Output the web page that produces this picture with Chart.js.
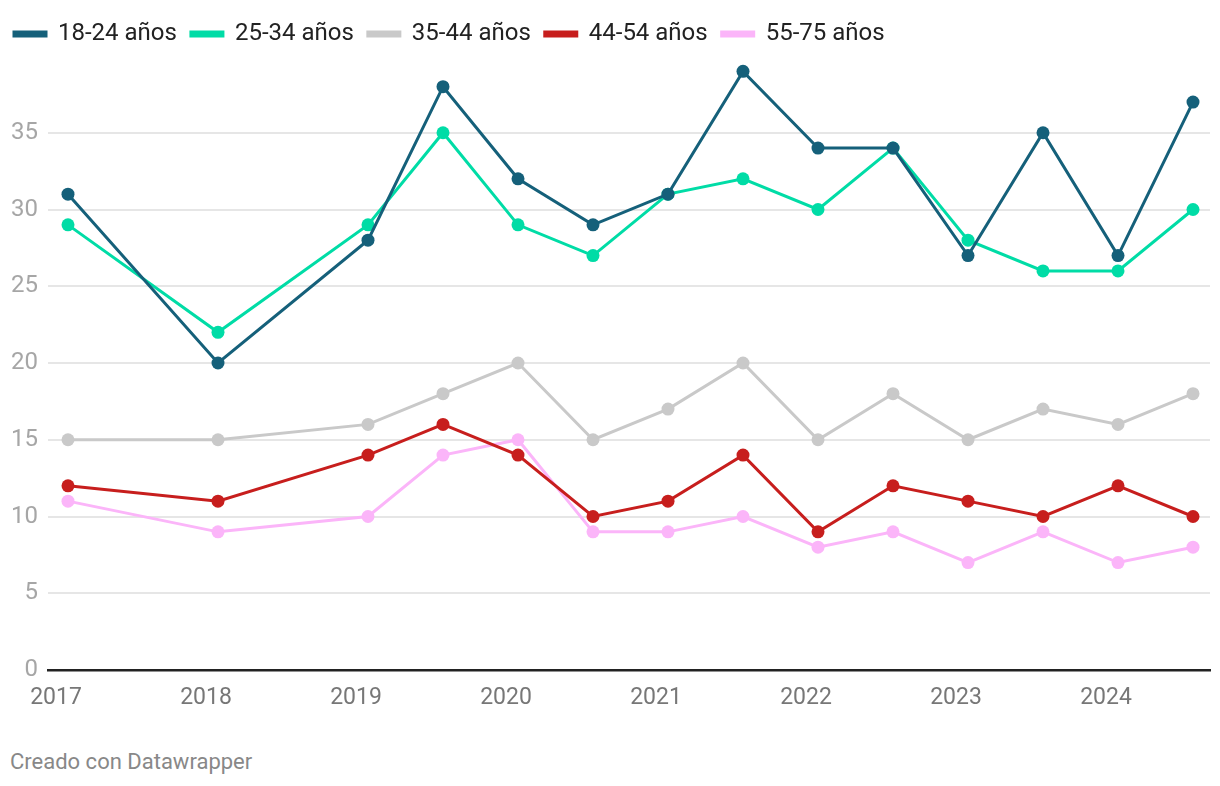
<!DOCTYPE html>
<html>
<head>
<meta charset="utf-8">
<script src="https://cdn.jsdelivr.net/npm/chart.js@4.4.0/dist/chart.umd.min.js"></script>
<style>
  body { margin: 0; background: #fff; font-family: Roboto, sans-serif; }
  #wrap { position: relative; width: 1220px; height: 716px; }
  #footer { position: absolute; left: 10px; top: 749px; font-size: 22px; color: #888; }
</style>
</head>
<body>
<div id="wrap"><canvas id="chart"></canvas></div>
<div id="footer">Creado con Datawrapper</div>
<script>
// periodos (año decimal)
const periods = [2017, 2018, 2019, 2019.5, 2020, 2020.5, 2021, 2021.5, 2022, 2022.5, 2023, 2023.5, 2024, 2024.5];
const yearTicks = [2017, 2018, 2019, 2020, 2021, 2022, 2023, 2024];
const yTicks = [0, 5, 10, 15, 20, 25, 30, 35];

const seriesNames = ['18-24 años', '25-34 años', '35-44 años', '44-54 años', '55-75 años'];
const seriesColors = ['#15607a', '#00dca6', '#c9c9c9', '#c71e1d', '#fbb5f9'];

const s18_24 = [31, 20, 28, 38, 32, 29, 31, 39, 34, 34, 27, 35, 27, 37];
const s25_34 = [29, 22, 29, 35, 29, 27, 31, 32, 30, 34, 28, 26, 26, 30];
const s35_44 = [15, 15, 16, 18, 20, 15, 17, 20, 15, 18, 15, 17, 16, 18];
const s44_54 = [12, 11, 14, 16, 14, 10, 11, 14, 9, 12, 11, 10, 12, 10];
const s55_75 = [11, 9, 10, 14, 15, 9, 9, 10, 8, 9, 7, 9, 7, 8];

const allSeries = [s18_24, s25_34, s35_44, s44_54, s55_75];

const datasets = allSeries.map((vals, i) => ({
  label: seriesNames[i],
  data: vals.map((v, j) => ({ x: periods[j], y: v })),
  borderColor: seriesColors[i],
  backgroundColor: seriesColors[i],
  borderWidth: 3,
  pointRadius: 6.5,
  pointBorderWidth: 0,
  pointBackgroundColor: seriesColors[i],
  tension: 0,
  clip: false,
}));

new Chart(document.getElementById('chart'), {
  type: 'line',
  data: { datasets },
  options: {
    responsive: true,
    maintainAspectRatio: false,
    animation: false,
    layout: { padding: { top: 8, right: 10, left: 0, bottom: 0 } },
    plugins: {
      tooltip: { enabled: false },
      legend: {
        position: 'top',
        align: 'start',
        labels: {
          boxWidth: 32,
          boxHeight: 4,
          padding: 14,
          color: '#222',
          font: { family: 'Roboto', size: 24 },
        },
      },
    },
    scales: {
      x: {
        type: 'linear',
        min: 2016.8667,
        max: 2024.6133,
        afterBuildTicks: (scale) => {
          scale.ticks = yearTicks.map((v) => ({ value: v }));
        },
        afterFit: (scale) => { scale.height = 46; },
        grid: { display: false },
        border: { display: true, color: '#222', width: 2.5 },
        ticks: {
          color: '#777',
          padding: 6,
          labelOffset: -12,
          maxRotation: 0,
          font: { family: 'Roboto', size: 23 },
          callback: (v) => String(v),
        },
      },
      y: {
        min: 0,
        max: 40,
        afterBuildTicks: (scale) => {
          scale.ticks = yTicks.map((v) => ({ value: v }));
        },
        afterFit: (scale) => { scale.width = 48; },
        border: { display: false },
        grid: { color: '#e6e6e6', lineWidth: 2, drawTicks: false },
        ticks: {
          color: '#a6a6a6',
          padding: 10,
          font: { family: 'Roboto', size: 24 },
        },
      },
    },
  },
});
</script>
</body>
</html>
